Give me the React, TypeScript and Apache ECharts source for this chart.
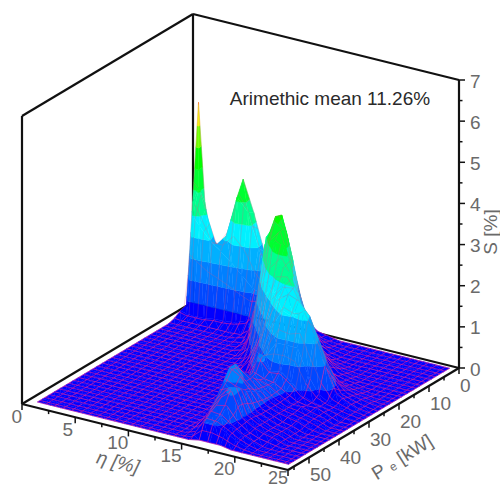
import React, { useEffect, useRef } from "react";
import * as echarts from "echarts";

const etaValues = [0.8, 1.4, 2, 3, 4, 5, 6, 7, 8, 9, 10, 11, 12, 13, 14, 15, 16, 17, 18, 19, 20, 21, 22, 23, 24.4];
const powerValues = [1, 3, 5, 7, 9, 11, 13, 15, 17, 19, 21, 23, 25, 27, 29, 31, 33, 35, 37, 39, 41, 43, 45, 47, 49, 51, 53, 54.7];
// one row per power value, one column per efficiency value
const sValues = [
  [4.95, 2.55, 1.75, 1.5, 2.4, 3.35, 2.6, 1.7, 1.2, 0.9, 0.6, 0.3, 0.1, 0.05, 0, 0, 0, 0, 0, 0, 0, 0, 0, 0, 0],
  [2.6, 3.0, 2.5, 1.7, 2.0, 3.0, 2.7, 1.9, 1.2, 0.9, 0.7, 0.4, 0.2, 0.05, 0.03, 0, 0, 0, 0, 0, 0, 0, 0, 0, 0],
  [0.2, 2.4, 2.2, 1.9, 1.7, 1.5, 1.25, 1.0, 0.9, 1.2, 1.5, 1.2, 0.6, 0.2, 0.05, 0.03, 0, 0, 0, 0, 0, 0, 0, 0, 0],
  [0.15, 0.1, 0.1, 0.1, 0.15, 0.15, 0.2, 0.3, 0.6, 1.3, 1.8, 1.9, 1.2, 0.5, 0.15, 0.05, 0, 0, 0, 0, 0, 0, 0, 0, 0],
  [0.05, 0.03, 0.03, 0.03, 0.03, 0.03, 0.03, 0.05, 0.25, 1.5, 2.5, 2.7, 1.9, 1.0, 0.4, 0.1, 0.03, 0, 0, 0, 0, 0, 0, 0, 0],
  [0, 0, 0, 0, 0, 0, 0, 0.03, 0.1, 1.0, 2.7, 3.1, 2.8, 1.5, 0.8, 0.35, 0.1, 0.03, 0, 0, 0, 0, 0, 0, 0],
  [0, 0, 0, 0, 0, 0, 0, 0, 0.03, 0.3, 1.7, 3.0, 3.45, 2.47, 1.3, 0.75, 0.3, 0.1, 0.05, 0, 0, 0, 0, 0, 0],
  [0, 0, 0, 0, 0, 0, 0, 0, 0, 0.1, 0.8, 2.75, 3.5, 3.2, 1.95, 1.2, 0.7, 0.3, 0.1, 0.05, 0, 0, 0, 0, 0],
  [0, 0, 0, 0, 0, 0, 0, 0, 0, 0, 0.25, 1.7, 3.0, 3.3, 2.5, 1.6, 1.0, 0.5, 0.15, 0.08, 0.05, 0, 0, 0, 0],
  [0, 0, 0, 0, 0, 0, 0, 0, 0, 0, 0.05, 0.5, 2.1, 3.1, 3.1, 2.2, 1.4, 0.8, 0.4, 0.1, 0.08, 0.05, 0, 0, 0],
  [0, 0, 0, 0, 0, 0, 0, 0, 0, 0, 0, 0.15, 0.8, 2.2, 2.7, 2.6, 1.9, 1.3, 0.8, 0.4, 0.15, 0.1, 0.05, 0, 0],
  [0, 0, 0, 0, 0, 0, 0, 0, 0, 0, 0, 0.1, 0.45, 1.1, 2.1, 2.4, 2.4, 1.8, 1.4, 0.8, 0.35, 0.15, 0.1, 0.05, 0],
  [0, 0, 0, 0, 0, 0, 0, 0, 0, 0, 0, 0, 0.15, 0.7, 1.5, 2.1, 2.3, 2.2, 1.9, 1.3, 0.6, 0.2, 0.12, 0.05, 0],
  [0, 0, 0, 0, 0, 0, 0, 0, 0, 0, 0, 0, 0.05, 0.3, 0.8, 1.5, 2.0, 1.9, 2.1, 1.6, 0.9, 0.3, 0.15, 0.05, 0],
  [0, 0, 0, 0, 0, 0, 0, 0, 0, 0, 0, 0, 0, 0.2, 0.6, 0.9, 1.3, 1.3, 1.3, 0.7, 0.3, 0.15, 0.1, 0.05, 0],
  [0, 0, 0, 0, 0, 0, 0, 0, 0, 0, 0, 0, 0, 0, 0.3, 1.05, 0.7, 0.75, 0.55, 0.3, 0.2, 0.15, 0.1, 0.03, 0],
  [0, 0, 0, 0, 0, 0, 0, 0, 0, 0, 0, 0, 0, 0, 0.1, 0.7, 0.6, 0.55, 0.4, 0.25, 0.2, 0.2, 0.1, 0, 0],
  [0, 0, 0, 0, 0, 0, 0, 0, 0, 0, 0, 0, 0, 0, 0.05, 0.6, 0.65, 0.55, 0.38, 0.25, 0.25, 0.15, 0.1, 0, 0],
  [0, 0, 0, 0, 0, 0, 0, 0, 0, 0, 0, 0, 0, 0, 0, 0.9, 0.8, 0.55, 0.35, 0.25, 0.2, 0.15, 0.1, 0, 0],
  [0, 0, 0, 0, 0, 0, 0, 0, 0, 0, 0, 0, 0, 0, 0, 1.15, 0.8, 0.6, 0.35, 0.25, 0.2, 0.15, 0.05, 0, 0],
  [0, 0, 0, 0, 0, 0, 0, 0, 0, 0, 0, 0, 0, 0, 0, 1.15, 1.0, 0.7, 0.35, 0.25, 0.15, 0.1, 0, 0, 0],
  [0, 0, 0, 0, 0, 0, 0, 0, 0, 0, 0, 0, 0, 0, 0, 0.9, 0.8, 0.8, 0.35, 0.25, 0.15, 0.1, 0, 0, 0],
  [0, 0, 0, 0, 0, 0, 0, 0, 0, 0, 0, 0, 0, 0, 0, 0.65, 0.9, 0.95, 0.4, 0.25, 0.15, 0.1, 0, 0, 0],
  [0, 0, 0, 0, 0, 0, 0, 0, 0, 0, 0, 0, 0, 0, 0, 0.45, 0.8, 1.05, 0.4, 0.25, 0.15, 0.1, 0, 0, 0],
  [0, 0, 0, 0, 0, 0, 0, 0, 0, 0, 0, 0, 0, 0, 0, 0.3, 0.65, 0.7, 0.38, 0.2, 0.1, 0.05, 0, 0, 0],
  [0, 0, 0, 0, 0, 0, 0, 0, 0, 0, 0, 0, 0, 0, 0, 0.15, 0.55, 0.5, 0.35, 0.2, 0.1, 0, 0, 0, 0],
  [0, 0, 0, 0, 0, 0, 0, 0, 0, 0, 0, 0, 0, 0, 0, 0.05, 0.42, 0.42, 0.3, 0.15, 0.05, 0, 0, 0, 0],
  [0, 0, 0, 0, 0, 0, 0, 0, 0, 0, 0, 0, 0, 0, 0, 0, 0.05, 0.05, 0.05, 0, 0, 0, 0, 0, 0],
];
const bandStarts = [0, 0.4, 0.9, 1.4, 1.9, 2.4, 2.9, 3.4, 3.9, 4.4, 4.9, 5.4, 5.9, 6.4];
const bandColors = [
  "#0000ff", "#0048ff", "#0080ff", "#00b0ff", "#00f0ff", "#00ff90", "#00ff30", "#00ff00",
  "#70ff00", "#f0f000", "#ffa000", "#ff6000", "#ff3000", "#ff0000",
];
// where the mesh lines of the surface run
const meshEtaStep = 0.8;
const meshPowerStep = 1.6;
const etaMajorTicks = [0, 5, 10, 15, 20, 25];
const etaMinorTicks = [2.5, 7.5, 12.5, 17.5, 22.5];
const powerMajorTicks = [0, 10, 20, 30, 40, 50];
const powerMinorTicks = [5, 15, 25, 35, 45, 55];
const sMajorTicks = [0, 1, 2, 3, 4, 5, 6, 7];
const sMinorTicks = [0.5, 1.5, 2.5, 3.5, 4.5, 5.5, 6.5];
const note = "Arimethic mean 11.26%";

const ETA_MAX = 25;
const P_MAX = 57;
const S_MAX = 7;

// parallel projection of the box
function project(eta: number, p: number, s: number): [number, number] {
  const x = 193 + (266 / ETA_MAX) * eta - (171 / P_MAX) * p;
  const y = 302 + (66 / ETA_MAX) * eta + (102 / P_MAX) * p - (288 / S_MAX) * s;
  return [x, y];
}

type V = [number, number, number];

function clipBand(poly: V[], level: number, keepAbove: boolean): V[] {
  const out: V[] = [];
  const inside = (v: V) => (keepAbove ? v[2] >= level : v[2] <= level);
  for (let i = 0; i < poly.length; i++) {
    const a = poly[i];
    const b = poly[(i + 1) % poly.length];
    const ia = inside(a);
    const ib = inside(b);
    if (ia) out.push(a);
    if (ia !== ib) {
      const t = (level - a[2]) / (b[2] - a[2]);
      out.push([a[0] + (b[0] - a[0]) * t, a[1] + (b[1] - a[1]) * t, level]);
    }
  }
  return out;
}

function meshPositions(from: number, to: number, start: number, step: number, includeEnd: boolean): number[] {
  const res: number[] = [];
  for (let v = start; v < to + 1e-6; v += step) {
    if (v >= from - 1e-6 && (includeEnd || v < to - 1e-6)) res.push(v);
  }
  return res;
}

function cellChildren(i: number, j: number, api: any): any[] {
  const node = (r: number, c: number): V => {
    const s = sValues[r][c];
    const pt = api.coord(project(etaValues[c], powerValues[r], s));
    return [pt[0], pt[1], s];
  };
  const a = node(j, i);
  const b = node(j, i + 1);
  const c = node(j + 1, i + 1);
  const d = node(j + 1, i);
  const children: any[] = [];
  [[a, b, c], [a, c, d]].forEach((tri) => {
    bandColors.forEach((color, k) => {
      let poly: V[] = tri as V[];
      if (k > 0) poly = clipBand(poly, bandStarts[k], true);
      if (poly.length && k < bandColors.length - 1) poly = clipBand(poly, bandStarts[k + 1], false);
      if (poly.length >= 3) {
        children.push({
          type: "polygon",
          shape: { points: poly.map((v) => [v[0], v[1]]) },
          style: { fill: color, stroke: color, lineWidth: 0.4 },
        });
      }
    });
  });
  const e0 = etaValues[i];
  const e1 = etaValues[i + 1];
  const p0 = powerValues[j];
  const p1 = powerValues[j + 1];
  const at = (eta: number, p: number) => {
    const u = (eta - e0) / (e1 - e0);
    const v = (p - p0) / (p1 - p0);
    const s =
      sValues[j][i] * (1 - u) * (1 - v) +
      sValues[j][i + 1] * u * (1 - v) +
      sValues[j + 1][i + 1] * u * v +
      sValues[j + 1][i] * (1 - u) * v;
    return api.coord(project(eta, p, s));
  };
  const top = Math.max(a[2], b[2], c[2], d[2]);
  const high = top >= 1.2;
  const meshStyle = high
    ? { stroke: "rgba(235,80,120,0.42)", lineWidth: 0.6, fill: "none" }
    : { stroke: "rgba(240,30,150,0.75)", lineWidth: 0.8, fill: "none" };
  const lastEta = i === etaValues.length - 2;
  const lastP = j === powerValues.length - 2;
  const etaLines = meshPositions(e0, e1, etaValues[0], meshEtaStep, lastEta);
  if (lastEta && !etaLines.some((v) => Math.abs(v - e1) < 1e-6)) etaLines.push(e1);
  const powerLines = meshPositions(p0, p1, powerValues[0], meshPowerStep, lastP);
  if (lastP && !powerLines.some((v) => Math.abs(v - p1) < 1e-6)) powerLines.push(p1);
  etaLines.forEach((eta) => {
    children.push({ type: "polyline", shape: { points: [at(eta, p0), at(eta, p1)] }, style: meshStyle });
  });
  powerLines.forEach((p) => {
    children.push({ type: "polyline", shape: { points: [at(e0, p), at(e1, p)] }, style: meshStyle });
  });
  return children;
}

const cells: number[][] = [];
for (let j = 0; j < powerValues.length - 1; j++) {
  for (let i = 0; i < etaValues.length - 1; i++) cells.push([i, j]);
}

const boxEdges: number[][] = [
  [0, P_MAX, 0, 0, 0, 0],
  [0, 0, 0, ETA_MAX, 0, 0],
  [0, P_MAX, 0, ETA_MAX, P_MAX, 0],
  [ETA_MAX, 0, 0, ETA_MAX, P_MAX, 0],
  [0, P_MAX, 0, 0, P_MAX, S_MAX],
  [0, 0, 0, 0, 0, S_MAX],
  [ETA_MAX, 0, 0, ETA_MAX, 0, S_MAX],
  [0, P_MAX, S_MAX, 0, 0, S_MAX],
  [0, 0, S_MAX, ETA_MAX, 0, S_MAX],
];

const FONT = '"Liberation Sans", Arial, sans-serif';
const GREY = "#6a6a6a";

function axesChildren(api: any): any[] {
  const out: any[] = [];
  const tick = (p: number[], dx: number, dy: number) =>
    out.push({
      type: "line",
      shape: { x1: p[0], y1: p[1], x2: p[0] + dx, y2: p[1] + dy },
      style: { stroke: "#111", lineWidth: 1.5 },
    });
  const label = (text: string, x: number, y: number, align: string, size = 19) =>
    out.push({
      type: "text",
      style: { text, x, y, align, verticalAlign: "middle", fill: GREY, font: `${size}px ${FONT}` },
    });
  etaMajorTicks.forEach((v) => {
    const p = api.coord(project(v, P_MAX, 0));
    tick(p, 0, 6);
    if (v === ETA_MAX) label(String(v), p[0], p[1] + 8, "right", 18);
    else label(String(v), p[0] + (v === 5 ? -2 : 0), p[1] + 12, "right");
  });
  etaMinorTicks.forEach((v) => tick(api.coord(project(v, P_MAX, 0)), 0, 3.5));
  powerMajorTicks.forEach((v) => {
    const p = api.coord(project(ETA_MAX, v, 0));
    tick(p, 0, 6);
    label(String(v), p[0] + 1, p[1] + 17.5, "left");
  });
  powerMinorTicks.forEach((v) => tick(api.coord(project(ETA_MAX, v, 0)), 0, 3.5));
  sMajorTicks.forEach((v) => {
    const p = api.coord(project(ETA_MAX, 0, v));
    tick(p, 6, 0);
    label(String(v), p[0] + 11, p[1] + 1, "left");
  });
  sMinorTicks.forEach((v) => tick(api.coord(project(ETA_MAX, 0, v)), 3.5, 0));
  out.push({
    type: "text",
    x: 118,
    y: 462,
    rotation: -0.25,
    style: { text: "η [%]", align: "center", verticalAlign: "middle", fill: GREY, font: `italic 19px ${FONT}` },
  });
  out.push({
    type: "text",
    x: 402,
    y: 457,
    rotation: 0.56,
    style: {
      text: "{a|P} {b|e} {a|[kW]}",
      align: "center",
      verticalAlign: "middle",
      fill: GREY,
      font: `19px ${FONT}`,
      rich: {
        a: { fill: GREY, font: `19px ${FONT}` },
        b: { fill: GREY, font: `12px ${FONT}`, verticalAlign: "bottom" },
      },
    },
  });
  out.push({
    type: "text",
    x: 490,
    y: 232,
    rotation: Math.PI / 2,
    style: { text: "S [%]", align: "center", verticalAlign: "middle", fill: GREY, font: `19px ${FONT}` },
  });
  out.push({
    type: "text",
    x: 330,
    y: 98,
    style: { text: note, align: "center", verticalAlign: "middle", fill: "#2a2a2a", font: `19px ${FONT}` },
  });
  return out;
}

export default function App() {
  const ref = useRef<HTMLDivElement>(null);
  useEffect(() => {
    document.body.style.margin = "0";
    const chart = echarts.init(ref.current!, undefined, { renderer: "svg" });
    chart.setOption({
      animation: false,
      backgroundColor: "#ffffff",
      grid: { left: 0, right: 0, top: 0, bottom: 0 },
      xAxis: { type: "value", min: 0, max: 500, show: false },
      yAxis: { type: "value", min: 0, max: 487, inverse: true, show: false },
      series: [
        {
          type: "custom",
          coordinateSystem: "cartesian2d",
          clip: false,
          z: 1,
          data: boxEdges,
          renderItem: (params: any, api: any) => {
            const e = boxEdges[params.dataIndex];
            const p1 = api.coord(project(e[0], e[1], e[2]));
            const p2 = api.coord(project(e[3], e[4], e[5]));
            return {
              type: "line",
              shape: { x1: p1[0], y1: p1[1], x2: p2[0], y2: p2[1] },
              style: { stroke: "#111", lineWidth: 2.2 },
            };
          },
        },
        {
          type: "custom",
          coordinateSystem: "cartesian2d",
          clip: false,
          z: 2,
          data: cells,
          renderItem: (params: any, api: any) => {
            const c = cells[params.dataIndex];
            return { type: "group", children: cellChildren(c[0], c[1], api) };
          },
        },
        {
          type: "custom",
          coordinateSystem: "cartesian2d",
          clip: false,
          z: 3,
          data: [[0, 0]],
          renderItem: (_: any, api: any) => ({ type: "group", children: axesChildren(api) }),
        },
      ],
    });
    return () => chart.dispose();
  }, []);
  return <div ref={ref} style={{ position: "absolute", left: 0, top: 0, width: 500, height: 487 }} />;
}
